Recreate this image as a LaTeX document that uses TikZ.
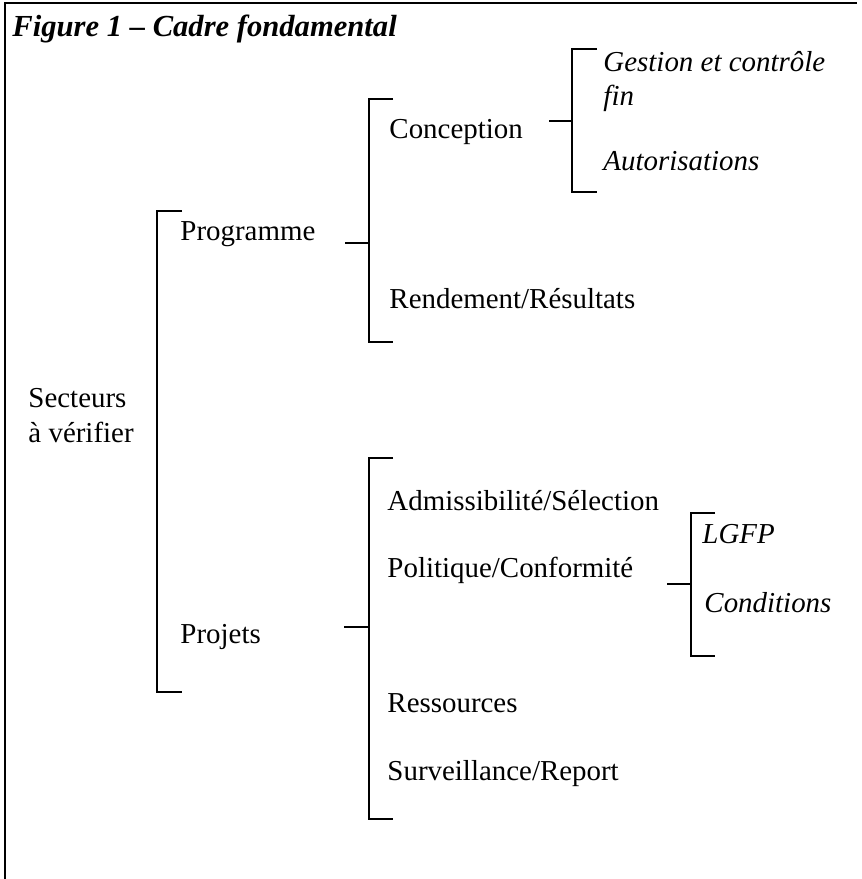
\documentclass[tikz,border=0pt]{standalone}
\usepackage{fontspec}
\setmainfont{Liberation Serif}
\tikzset{
  lbl/.style={anchor=base west,inner sep=0pt,font=\fontsize{12}{14.2}\selectfont},
  sublbl/.style={lbl,font=\fontsize{12}{13.8}\selectfont\itshape},
  brk/.style={line width=0.8pt},
}
\begin{document}
\begin{tikzpicture}[x=0.415pt,y=-0.415pt]
        \useasboundingbox (0,0) rectangle (862,879);
        %% Frame
        \draw[line width=0.8pt] (5,879) -- (5,3) -- (857,3);
        \node[lbl,font=\fontsize{12.7}{15}\selectfont\bfseries\itshape] (title) at (12,36) {Figure 1 -- Cadre fondamental};
        %% Labels (two-line nodes sit on their last baseline)
        \node[lbl,align=left] (sect) at (28,442) {Secteurs\\à vérifier};
        \node[lbl] (prog) at (180,240) {Programme};
        \node[lbl] (proj) at (180,643) {Projets};
        \node[lbl] (conc) at (389,138) {Conception};
        \node[lbl] (rend) at (389,308) {Rendement/Résultats};
        \node[lbl] (adm) at (387,510) {Admissibilité/Sélection};
        \node[lbl] (pol) at (387,577) {Politique/Conformité};
        \node[lbl] (res) at (387,712) {Ressources};
        \node[lbl] (surv) at (387,780) {Surveillance/Report};
        \node[sublbl,align=left] (gest) at (603,105) {Gestion et contrôle\\fin};
        \node[sublbl] (aut) at (603,170) {Autorisations};
        \node[sublbl] (lgfp) at (702,543) {LGFP};
        \node[sublbl] (cond) at (704,612) {Conditions};
        %% Brackets
        \coordinate (sectT) at (157,211);
        \coordinate (sectB) at (157,692);
        \draw[brk] (sectT) ++(25,0) -- (sectT) -- (sectB) -- ++(25,0);
        \coordinate (progS) at (345,243);
        \coordinate (progT) at (369,99);
        \coordinate (progB) at (369,342);
        \draw[brk] (progT) ++(24,0) -- (progT) -- (progB) -- ++(24,0);
        \draw[brk] (progS) -- (progS -| progT);
        \coordinate (concS) at (549,121);
        \coordinate (concT) at (572,49);
        \coordinate (concB) at (572,192);
        \draw[brk] (concT) ++(25,0) -- (concT) -- (concB) -- ++(25,0);
        \draw[brk] (concS) -- (concS -| concT);
        \coordinate (projS) at (344,627);
        \coordinate (projT) at (369,458);
        \coordinate (projB) at (369,819);
        \draw[brk] (projT) ++(24,0) -- (projT) -- (projB) -- ++(24,0);
        \draw[brk] (projS) -- (projS -| projT);
        \coordinate (polS) at (667,584);
        \coordinate (polT) at (691,513);
        \coordinate (polB) at (691,656);
        \draw[brk] (polT) ++(24,0) -- (polT) -- (polB) -- ++(24,0);
        \draw[brk] (polS) -- (polS -| polT);
    \end{tikzpicture}
\end{document}
